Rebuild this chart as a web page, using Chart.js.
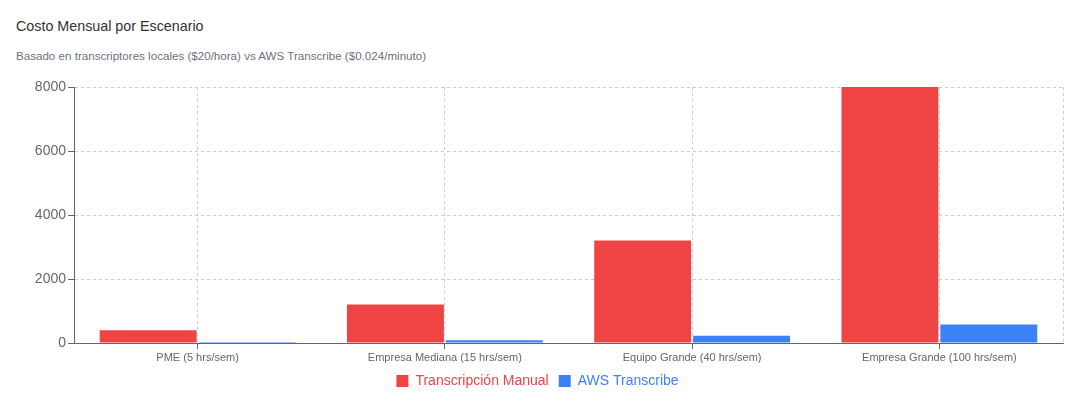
<!DOCTYPE html>
<html>
<head>
<meta charset="utf-8">
<script src="https://cdn.jsdelivr.net/npm/chart.js@4"></script>
<style>
  body { margin: 0; background: #fff; font-family: "Liberation Sans", Arial, sans-serif; }
  #wrap { position: relative; width: 1078px; height: 408px; }
  #title { position: absolute; left: 16px; top: 18px; font-size: 14.3px; color: #333; }
  #subtitle { position: absolute; left: 16px; top: 49px; font-size: 11.6px; color: #6b7280; }
  canvas { position: absolute; left: 0; top: 0; }
</style>
</head>
<body>
<div id="wrap">
  <div id="title">Costo Mensual por Escenario</div>
  <div id="subtitle">Basado en transcriptores locales ($20/hora) vs AWS Transcribe ($0.024/minuto)</div>
  <canvas id="costChart" width="1078" height="408"></canvas>
</div>
<script>
// --- Data ---
const scenarios = [
  "PME (5 hrs/sem)",
  "Empresa Mediana (15 hrs/sem)",
  "Equipo Grande (40 hrs/sem)",
  "Empresa Grande (100 hrs/sem)",
];
const manualCost = [400, 1200, 3200, 8000];
const awsCost = [28.8, 86.4, 230.4, 576];
const yTicks = [0, 2000, 4000, 6000, 8000];

const manualColor = "#ef4444";
const awsColor = "#3b82f6";

// dashed line on the right edge of the plot
const rightEdge = {
  id: "rightEdge",
  beforeDatasetsDraw(chart) {
    const { ctx, chartArea } = chart;
    ctx.save();
    ctx.strokeStyle = "#cccccc";
    ctx.lineWidth = 1;
    ctx.setLineDash([3, 3]);
    ctx.beginPath();
    ctx.moveTo(Math.round(chartArea.right) + 0.5, chartArea.top);
    ctx.lineTo(Math.round(chartArea.right) + 0.5, chartArea.bottom);
    ctx.stroke();
    ctx.restore();
  },
};

new Chart(document.getElementById("costChart"), {
  type: "bar",
  data: {
    labels: scenarios,
    datasets: [
      {
        label: "Transcripción Manual",
        data: manualCost,
        backgroundColor: manualColor,
      },
      {
        label: "AWS Transcribe",
        data: awsCost,
        backgroundColor: awsColor,
      },
    ],
  },
  options: {
    responsive: false,
    animation: false,
    categoryPercentage: 0.8,
    barPercentage: 0.98,
    layout: { padding: { top: 87, right: 15, bottom: 10, left: 12 } },
    plugins: {
      title: { display: false },
      tooltip: { enabled: false },
      legend: {
        position: "bottom",
        labels: {
          boxWidth: 12,
          boxHeight: 12,
          padding: 10,
          font: { family: "Liberation Sans", size: 14 },
          generateLabels(chart) {
            const items = Chart.defaults.plugins.legend.labels.generateLabels(chart);
            items.forEach((item) => {
              item.fontColor = chart.data.datasets[item.datasetIndex].backgroundColor;
              item.lineWidth = 0;
            });
            return items;
          },
        },
      },
    },
    scales: {
      x: {
        grid: {
          offset: false,
          color: "#cccccc",
          tickColor: "#666666",
          tickBorderDash: [],
          tickLength: 6,
        },
        border: { display: true, color: "#666666", dash: [3, 3] },
        ticks: {
          color: "#666666",
          padding: 2,
          font: { family: "Liberation Sans", size: 11 },
        },
        afterFit(scale) {
          scale.height = 21;
        },
      },
      y: {
        min: 0,
        max: 8000,
        afterBuildTicks(scale) {
          scale.ticks = yTicks.map((v) => ({ value: v }));
        },
        grid: {
          color: "#cccccc",
          tickColor: "#666666",
          tickBorderDash: [],
          tickLength: 6,
        },
        border: { display: true, color: "#666666", dash: [3, 3] },
        ticks: {
          color: "#666666",
          padding: 2,
          font: { family: "Liberation Sans", size: 14 },
          callback: (v) => String(v),
        },
        afterFit(scale) {
          scale.width = 62;
        },
      },
    },
  },
  plugins: [rightEdge],
});
</script>
</body>
</html>
